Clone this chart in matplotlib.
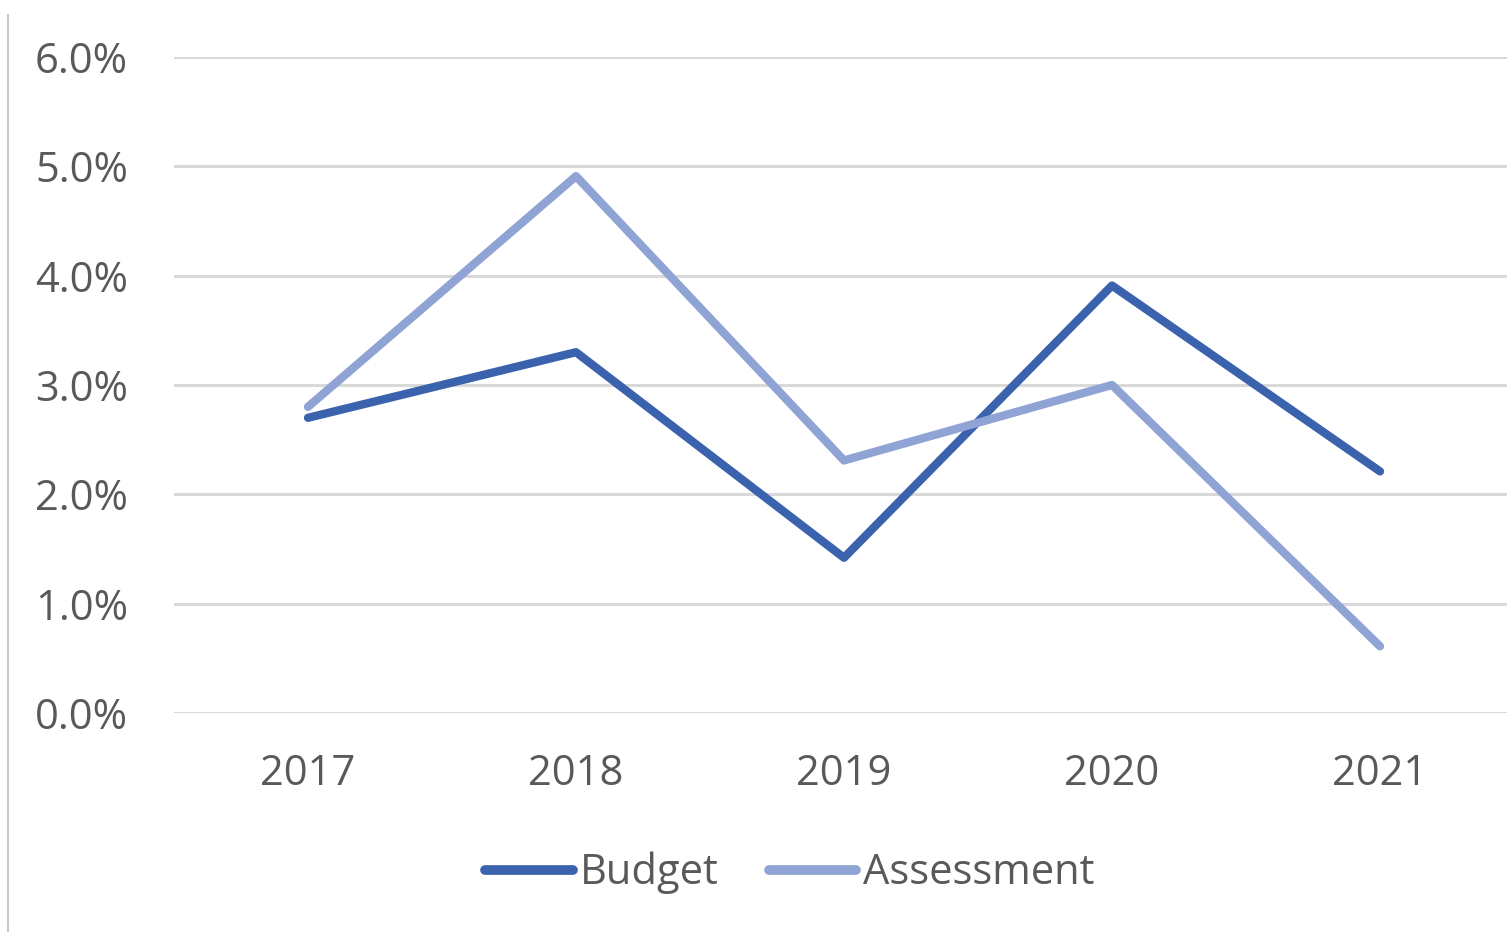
import matplotlib.pyplot as plt
from matplotlib.lines import Line2D
from matplotlib.ticker import FuncFormatter

plt.rcParams['font.family'] = ['Open Sans', 'DejaVu Sans']

years = ['2017', '2018', '2019', '2020', '2021']
budget = [2.70, 3.30, 1.42, 3.91, 2.21]
assessment = [2.80, 4.91, 2.31, 3.00, 0.61]

budget_color = '#3a62ad'
assess_color = '#8fa4d5'
text_color = '#595959'

fig = plt.figure(figsize=(15.07, 9.32), dpi=100)
# category band is ~268 px wide, so the axes runs a little past the right edge
ax = fig.add_axes([174 / 1507, 1 - 713 / 932, (1514 - 174) / 1507, (713 - 57) / 932])

x = range(len(years))
ax.plot(x, budget, color=budget_color, lw=6, solid_capstyle='round',
        solid_joinstyle='round', label='Budget', zorder=3)
ax.plot(x, assessment, color=assess_color, lw=6, solid_capstyle='round',
        solid_joinstyle='round', label='Assessment', zorder=3)

ax.set_xlim(-0.5, 4.5)
ax.set_ylim(0, 6)
ax.set_yticks(range(0, 7))
ax.yaxis.set_major_formatter(FuncFormatter(lambda v, p: '{:.1f}%'.format(v)))
ax.set_xticks(list(x))
ax.set_xticklabels(years)

ax.grid(axis='y', color='#d9d9d9', lw=2.2)
ax.set_axisbelow(True)
for s in ax.spines.values():
    s.set_visible(False)
ax.tick_params(length=0, labelsize=30, colors=text_color)
ax.tick_params(axis='y', pad=33)
ax.tick_params(axis='x', pad=29)

leg = fig.legend(loc='center', bbox_to_anchor=(790 / 1507, 1 - 873 / 932), ncol=2,
                 frameon=False, fontsize=30, handlelength=2.1, handletextpad=0.17,
                 columnspacing=1.2)
for t in leg.get_texts():
    t.set_color(text_color)
for h in leg.get_lines():
    h.set_linewidth(7)

# left border line
fig.add_artist(Line2D([8 / 1507, 8 / 1507], [0, 1 - 15 / 932], color='#c8c8c8', lw=1.5))

fig.savefig('out.png', dpi=100, facecolor='white')
